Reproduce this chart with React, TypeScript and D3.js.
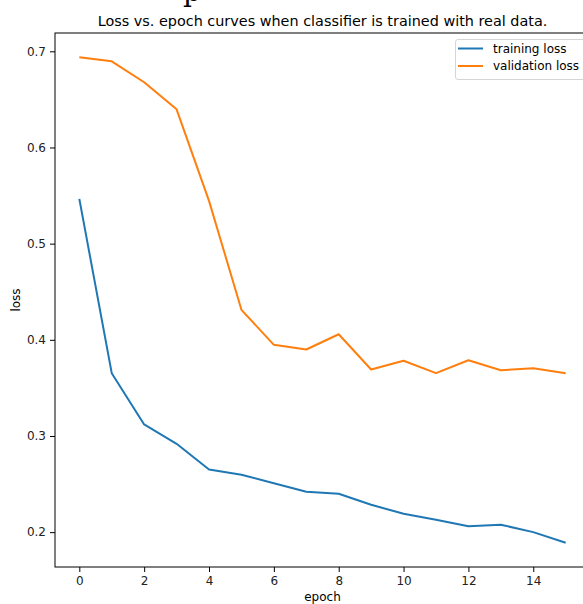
import React, {useEffect, useRef} from "react";
import * as d3 from "d3";

const epochs = d3.range(0, 16);
const trainingLoss = [0.5466, 0.3653, 0.312, 0.2919, 0.2652, 0.2597, 0.2509, 0.242, 0.2399, 0.2285, 0.2191, 0.2129, 0.2062, 0.2077, 0.2, 0.189];
const validationLoss = [0.6938, 0.6896, 0.6678, 0.6397, 0.5445, 0.4312, 0.3948, 0.3899, 0.4058, 0.3691, 0.3782, 0.3653, 0.3788, 0.3684, 0.3705, 0.3653];
const seriesNames = ["training loss", "validation loss"];
const seriesColors = ["#1f77b4", "#ff7f0e"];
const xTicks = [0, 2, 4, 6, 8, 10, 12, 14];
const yTicks = [0.2, 0.3, 0.4, 0.5, 0.6, 0.7];
const title = "Loss vs. epoch curves when classifier is trained with real data.";

const W = 583;
const H = 604;
const FONT = "DejaVu Sans, sans-serif";

const App = () => {
    const ref = useRef(null);

    useEffect(() => {
        const svg = d3.select(ref.current);
        svg.selectAll("*").remove();

        const left = 55, right = 590, top = 33, bottom = 567;

        // matplotlib style 5% margins
        const x = d3.scaleLinear().domain([-0.75, 15.75]).range([left, right]);
        const allY = trainingLoss.concat(validationLoss);
        const yMin = d3.min(allY)!, yMax = d3.max(allY)!;
        const pad = (yMax - yMin) * 0.05;
        const y = d3.scaleLinear().domain([yMin - pad, yMax + pad]).range([bottom, top]);

        // cropped heading from the page above (only a descender shows)
        svg.append("text")
            .attr("x", 183).attr("y", 1)
            .style("font-family", "DejaVu Serif, serif")
            .style("font-size", "28px")
            .text("p");

        svg.append("text")
            .attr("x", (left + right) / 2).attr("y", 26)
            .attr("text-anchor", "middle")
            .style("font-family", FONT)
            .style("font-size", "14.4px")
            .text(title);

        const line = d3.line<number>()
            .x((d, i) => x(epochs[i]))
            .y(d => y(d));

        [trainingLoss, validationLoss].forEach((s, i) => {
            svg.append("path")
                .datum(s)
                .attr("d", line)
                .attr("fill", "none")
                .attr("stroke", seriesColors[i])
                .attr("stroke-width", 2)
                .attr("stroke-linejoin", "round");
        });

        // spines
        svg.append("rect")
            .attr("x", left).attr("y", top)
            .attr("width", right - left).attr("height", bottom - top)
            .attr("fill", "none").attr("stroke", "black").attr("stroke-width", 1);

        const xAxis = svg.append("g")
            .attr("transform", `translate(0,${bottom})`)
            .call(d3.axisBottom(x).tickValues(xTicks).tickSize(5).tickPadding(4).tickFormat(d3.format("d")));
        xAxis.select(".domain").remove();

        const yAxis = svg.append("g")
            .attr("transform", `translate(${left},0)`)
            .call(d3.axisLeft(y).tickValues(yTicks).tickSize(5).tickPadding(4).tickFormat(d3.format(".1f")));
        yAxis.select(".domain").remove();

        svg.selectAll(".tick text")
            .style("font-family", FONT)
            .style("font-size", "12px")
            .attr("fill", "#222");

        svg.append("text")
            .attr("x", (left + right) / 2).attr("y", 601)
            .attr("text-anchor", "middle")
            .style("font-family", FONT).style("font-size", "12px")
            .text("epoch");

        svg.append("text")
            .attr("transform", `translate(20,${(top + bottom) / 2}) rotate(-90)`)
            .attr("text-anchor", "middle")
            .style("font-family", FONT).style("font-size", "12px")
            .text("loss");

        // legend
        const lg = svg.append("g");
        lg.append("rect")
            .attr("x", 455.5).attr("y", 39.5)
            .attr("width", 130).attr("height", 40)
            .attr("rx", 2.5)
            .attr("fill", "white").attr("fill-opacity", 0.8)
            .attr("stroke", "#d5d5d5").attr("stroke-width", 1);
        seriesNames.forEach((name, i) => {
            const ly = 48.5 + i * 17.5;
            lg.append("line")
                .attr("x1", 458).attr("x2", 483)
                .attr("y1", ly).attr("y2", ly)
                .attr("stroke", seriesColors[i]).attr("stroke-width", 2);
            lg.append("text")
                .attr("x", 493).attr("y", ly + 4)
                .style("font-family", FONT).style("font-size", "12px")
                .text(name);
        });
    }, []);

    return (
        <svg ref={ref} width={W} height={H}
             style={{position: "absolute", left: 0, top: 0, background: "white"}}/>
    );
};

export default App;
